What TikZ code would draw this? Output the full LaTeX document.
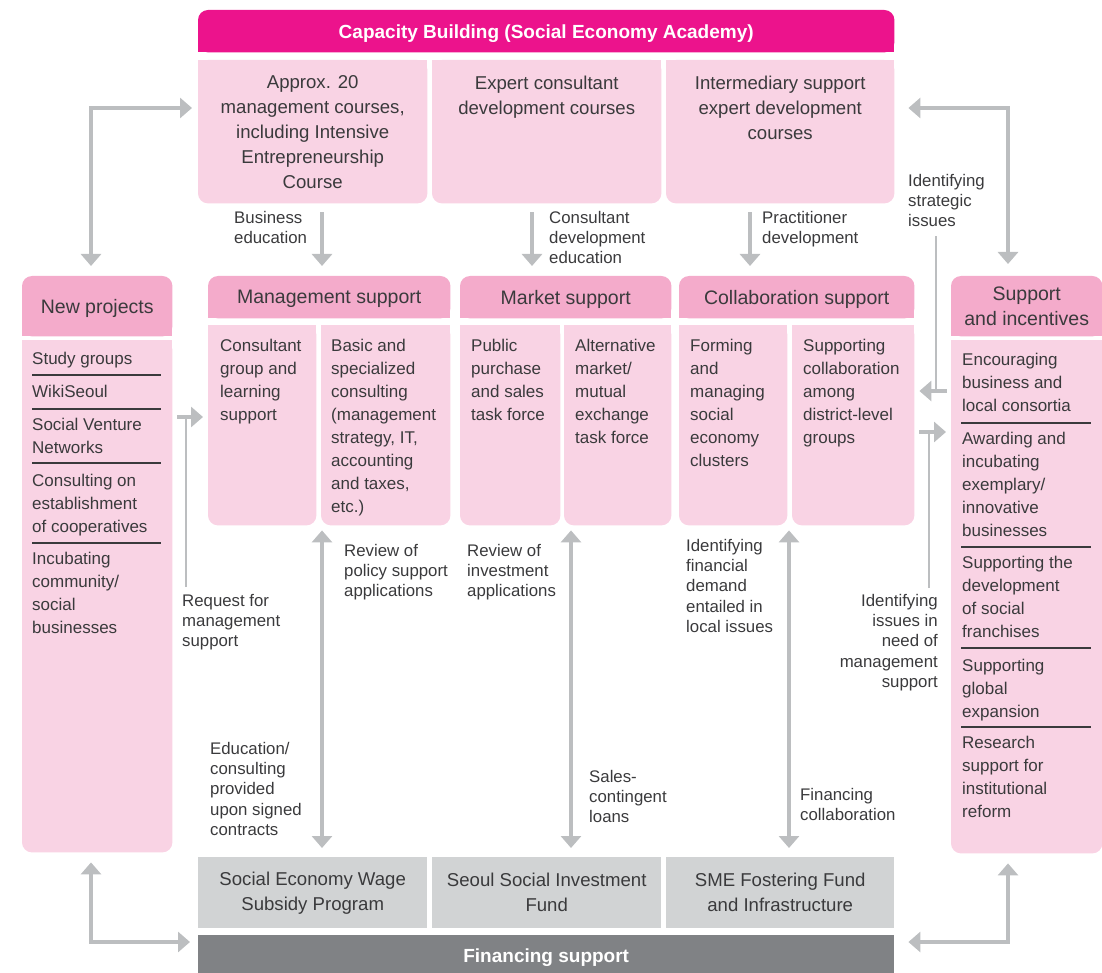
\documentclass[tikz,border=0pt]{standalone}
\usepackage{fontspec}
\setmainfont{Liberation Sans}
\usetikzlibrary{positioning,arrows.meta,backgrounds}

\definecolor{magbar}{HTML}{EC138C}
\definecolor{pinkhead}{HTML}{F4ABCB}
\definecolor{pinkbody}{HTML}{F9D3E4}
\definecolor{greybox}{HTML}{D1D3D4}
\definecolor{greybar}{HTML}{808285}
\definecolor{arrowgrey}{HTML}{BCBEC0}
\definecolor{ink}{HTML}{3A3A3C}

\newcommand\fbody{\fontsize{17}{23}\selectfont}
\newcommand\flbl{\fontsize{16.8}{20.3}\selectfont}
\newcommand\fbig{\fontsize{18.6}{25}\selectfont}
\newcommand\fhead{\fontsize{19.5}{25}\selectfont}
\newcommand\ftitle{\fontsize{19}{24}\selectfont\bfseries}

% fills with the two bottom (rbot) or two top (rtop) corners rounded
\newcommand\rbot[2]{%
  \fill[#1, rounded corners=10pt] (#2.north west) rectangle (#2.south east);
  \fill[#1] (#2.north west) rectangle (#2.east);}
\newcommand\rtop[2]{%
  \fill[#1, rounded corners=10pt] (#2.north west) rectangle (#2.south east);
  \fill[#1] (#2.west) rectangle (#2.south east);}

\begin{document}
\begin{tikzpicture}[x=1pt, y=-1pt,
    every node/.append style={text=ink},
    cell/.style 2 args={minimum width=#1pt, minimum height=#2pt, anchor=north west, inner sep=0pt, align=center},
    oneline/.style={text depth=0pt},
    txt/.style={anchor=north west, inner sep=0pt, align=left, font=\fbody, yshift=-2pt},
    lbl/.style={anchor=north west, inner sep=0pt, align=left, font=\flbl, yshift=-2pt},
    big/.style={anchor=north, inner sep=0pt, align=center, font=\fbig},
    sep/.style={draw=ink, line width=1.1pt},
    fwd/.style={draw=arrowgrey, line width=3.5pt, -{Triangle[width=20pt,length=12pt]}},
    both/.style={draw=arrowgrey, line width=3.5pt, {Triangle[width=20pt,length=12pt]}-{Triangle[width=20pt,length=12pt]}},
    thinline/.style={draw=arrowgrey, line width=1.8pt}]

    \useasboundingbox (0,0) rectangle (1102,973);

    % capacity building
    \node[cell={696}{42}, oneline, text=white, font=\ftitle] (cap) at (198,10) {Capacity Building (Social Economy Academy)};
    \node[cell={229}{143}] (top1) at (198,60) {};
    \node[cell={229}{143}] (top2) at (432,60) {};
    \node[cell={228}{143}] (top3) at (666,60) {};
    \node[big, below=15.5pt of top1.north] (top1t) {Approx. 20\\management courses,\\including Intensive\\Entrepreneurship\\Course};
    \node[big, below=15.5pt of top2.north] (top2t) {Expert consultant\\development courses};
    \node[big, below=15.5pt of top3.north] (top3t) {Intermediary support\\expert development\\courses};

    % headers
    \node[cell={150}{60}, oneline, font=\fhead] (newhead) at (22,276) {New projects};
    \node[cell={242}{42}, oneline, font=\fhead] (mgmthead) at (208,276) {Management support};
    \node[cell={211}{42}, oneline, font=\fhead] (markhead) at (460,276) {Market support};
    \node[cell={235}{42}, oneline, font=\fhead] (collhead) at (679,276) {Collaboration support};
    \node[cell={151}{60}, font=\fhead] (supphead) at (951,276) {Support\\and incentives};

    % bodies
    \node[cell={150}{512}] (newbody) at (22,340) {};
    \node[cell={108}{200}] (mgmtL) at (208,325) {};
    \node[cell={129}{200}] (mgmtR) at (321,325) {};
    \node[cell={100}{200}] (markL) at (460,325) {};
    \node[cell={107}{200}] (markR) at (564,325) {};
    \node[cell={108}{200}] (collL) at (679,325) {};
    \node[cell={122}{200}] (collR) at (792,325) {};
    \node[cell={151}{513}] (suppbody) at (951,340) {};

    \node[txt, below right=12pt and 12pt of mgmtL.north west] (mgmtLt) {Consultant\\group and\\learning\\support};
    \node[txt, below right=12pt and 10pt of mgmtR.north west] (mgmtRt) {Basic and\\specialized\\consulting\\(management\\strategy, IT,\\accounting\\and taxes,\\etc.)};
    \node[txt, below right=12pt and 11pt of markL.north west] (markLt) {Public\\purchase\\and sales\\task force};
    \node[txt, below right=12pt and 11pt of markR.north west] (markRt) {Alternative\\market/\\mutual\\exchange\\task force};
    \node[txt, below right=12pt and 11pt of collL.north west] (collLt) {Forming\\and\\managing\\social\\economy\\clusters};
    \node[txt, below right=12pt and 11pt of collR.north west] (collRt) {Supporting\\collaboration\\among\\district-level\\groups};

    % new projects list
    \node[txt] (np1) at (32,349.5) {Study groups};
    \node[txt] (np2) at (32,382.5) {WikiSeoul};
    \node[txt] (np3) at (32,415.5) {Social Venture\\Networks};
    \node[txt] (np4) at (32,471.5) {Consulting on\\establishment\\of cooperatives};
    \node[txt] (np5) at (32,549.5) {Incubating\\community/\\social\\businesses};
    \foreach \y in {375,409,463,543} {
        \draw[sep] (32,\y) -- (161,\y);
    }

    % support and incentives list
    \node[txt] (si1) at (962,350.5) {Encouraging\\business and\\local consortia};
    \node[txt] (si2) at (962,429.5) {Awarding and\\incubating\\exemplary/\\innovative\\businesses};
    \node[txt] (si3) at (962,553.5) {Supporting the\\development\\of social\\franchises};
    \node[txt] (si4) at (962,656.5) {Supporting\\global\\expansion};
    \node[txt] (si5) at (962,733.5) {Research\\support for\\institutional\\reform};
    \foreach \y in {423,547,648,727} {
        \draw[sep] (961,\y) -- (1091,\y);
    }

    % financing support
    \node[cell={229}{71}, font=\fbig] (wage) at (198,857) {Social Economy Wage\\Subsidy Program};
    \node[cell={229}{71}, font=\fbig] (invest) at (432,857) {Seoul Social Investment\\Fund};
    \node[cell={228}{71}, font=\fbig] (sme) at (666,857) {SME Fostering Fund\\and Infrastructure};
    \node[cell={696}{38}, text=white, font=\ftitle, text depth=0pt] (finbar) at (198,935) {\raisebox{-3pt}{Financing support}};

    \begin{scope}[on background layer]
        \rtop{magbar}{cap}
        \foreach \n in {top1,top2,top3,newbody,mgmtL,mgmtR,markL,markR,collL,collR,suppbody} {
            \rbot{pinkbody}{\n}
        }
        \foreach \n in {newhead,mgmthead,markhead,collhead,supphead} {
            \rtop{pinkhead}{\n}
        }
        \foreach \n in {wage,invest,sme} {
            \fill[greybox] (\n.north west) rectangle (\n.south east);
        }
        \fill[greybar] (finbar.north west) rectangle (finbar.south east);
    \end{scope}

    % labels
    \node[lbl] (biz) at (234,209) {Business\\education};
    \node[lbl] (cons) at (549,209) {Consultant\\development\\education};
    \node[lbl] (prac) at (762,209) {Practitioner\\development};
    \node[lbl] (strat) at (908,172) {Identifying\\strategic\\issues};
    \node[lbl] (req) at (182,592) {Request for\\management\\support};
    \node[lbl] (pol) at (344,542) {Review of\\policy support\\applications};
    \node[lbl] (edu) at (210,740) {Education/\\consulting\\provided\\upon signed\\contracts};
    \node[lbl] (inv) at (467,542) {Review of\\investment\\applications};
    \node[lbl] (sales) at (589,768) {Sales-\\contingent\\loans};
    \node[lbl] (fin) at (686,537) {Identifying\\financial\\demand\\entailed in\\local issues};
    \node[lbl] (fcol) at (800,786) {Financing\\collaboration};
    \node[lbl, anchor=north east, align=right] (need) at (938,592) {Identifying\\issues in\\need of\\management\\support};

    % academy to support fields
    \draw[fwd] ([yshift=-9pt]top1.south -| 322,0) -- ([yshift=10pt]mgmthead.north -| 322,0);
    \draw[fwd] ([yshift=-9pt]top2.south -| 532,0) -- ([yshift=10pt]markhead.north -| 532,0);
    \draw[fwd] ([yshift=-9pt]top3.south -| 750,0) -- ([yshift=10pt]collhead.north -| 750,0);

    % side loops
    \coordinate (lt) at (91,108);
    \coordinate (rt) at (1008,108);
    \coordinate (lb) at (91,942);
    \coordinate (rb) at (1008,942);
    \draw[both] ([yshift=10pt]newhead.north -| lt) |- ([xshift=-6pt]top1.west |- lt);
    \draw[both] ([yshift=12pt]supphead.north -| rt) |- ([xshift=14pt]top3.east |- rt);
    \draw[both] ([yshift=-10pt]newbody.south -| lb) |- ([xshift=-8pt]finbar.west |- lb);
    \draw[both] ([yshift=-10pt]suppbody.south -| rb) |- ([xshift=14pt]finbar.east |- rb);

    % financing links
    \draw[both] ([yshift=-5pt]mgmtR.south -| 322,0) -- ([yshift=9pt]wage.north -| 322,0);
    \draw[both] ([yshift=-5pt]markR.south -| 571,0) -- ([yshift=9pt]invest.north -| 571,0);
    \draw[both] ([yshift=-5pt]collR.south -| 789,0) -- ([yshift=9pt]sme.north -| 789,0);

    % requests and issues
    \coordinate (rq) at (186,417);
    \coordinate (sq) at (936,391);
    \coordinate (nq) at (929,432);
    \draw[thinline] ([yshift=7pt]req.north west -| rq) -- (rq);
    \draw[fwd] ([xshift=-31pt]mgmtL.west |- rq) -- ([xshift=-5pt]mgmtL.west |- rq);
    \draw[thinline] ([yshift=-9pt]strat.south -| sq) -- (sq);
    \draw[fwd] ([xshift=-4pt]suppbody.west |- sq) -- ([xshift=5pt]collR.east |- sq);
    \draw[thinline] ([yshift=6pt]need.north east -| nq) -- (nq);
    \draw[fwd] ([xshift=5pt]collR.east |- nq) -- ([xshift=-5pt]suppbody.west |- nq);
\end{tikzpicture}
\end{document}
